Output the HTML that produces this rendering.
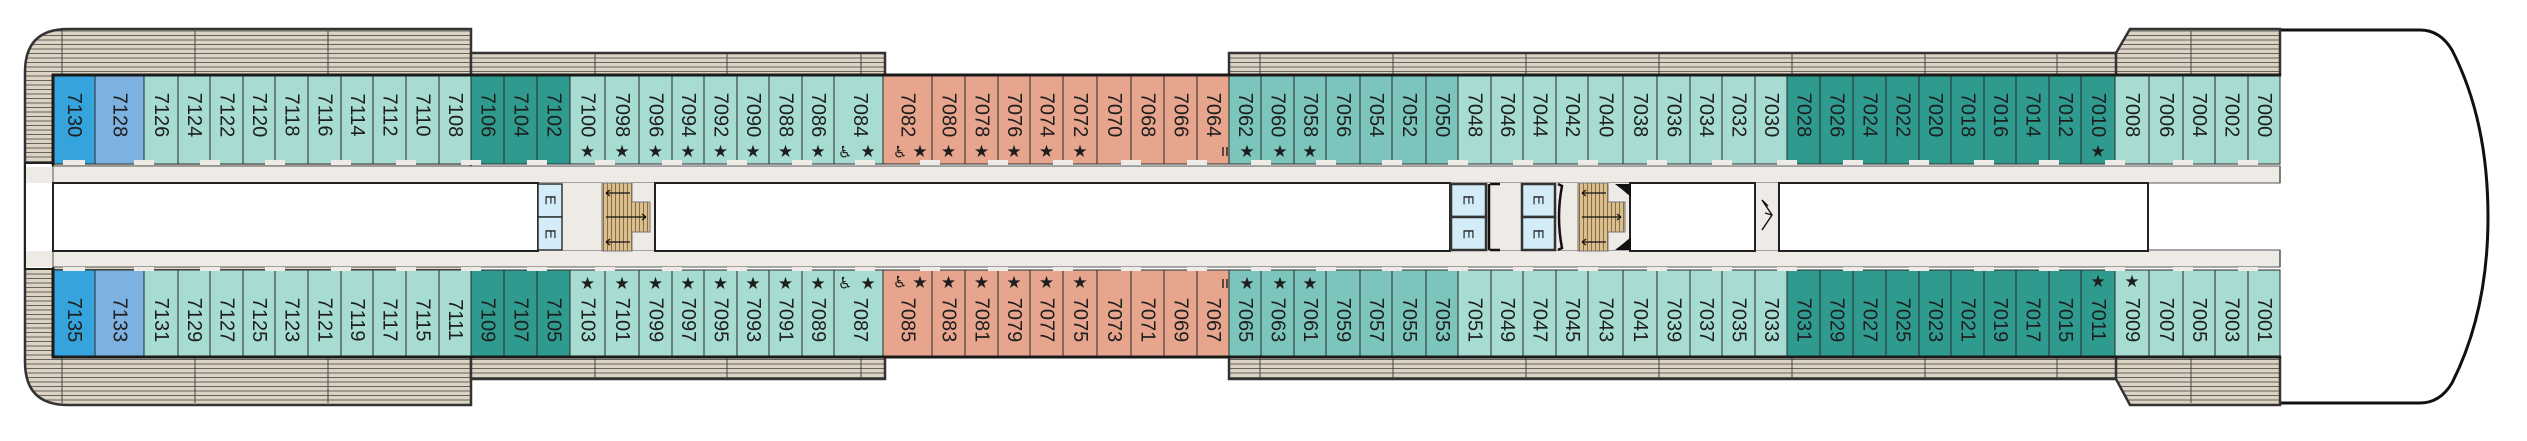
<!DOCTYPE html>
<html><head><meta charset="utf-8"><style>
html,body{margin:0;padding:0;background:#fff;width:2527px;height:441px;overflow:hidden}
svg{display:block}
.m{fill:#a6dcd1}.d{fill:#2f9b8f}.n{fill:#7cc5bc}.s{fill:#e8a58d}.b1{fill:#35a4dd}.b2{fill:#7db1e0}
.c rect{stroke:#2a2a2a;stroke-width:1}
.t{font-family:"Liberation Sans","DejaVu Sans",sans-serif;font-size:20px;fill:#1e1e1e;text-anchor:middle;dominant-baseline:central}
.st{font-family:"DejaVu Sans","Liberation Sans",sans-serif;font-size:17px;fill:#1e1e1e;text-anchor:middle;dominant-baseline:central}
.w{font-family:"DejaVu Sans",sans-serif;font-size:16px;fill:#1e1e1e;text-anchor:middle;dominant-baseline:central}
</style></head><body>
<svg width="2527" height="441" viewBox="0 0 2527 441" xmlns="http://www.w3.org/2000/svg">
<defs>
<pattern id="dk" width="10" height="4.5" patternUnits="userSpaceOnUse"><rect width="10" height="4.5" fill="#dcd3c2"/><line x1="0" y1="4" x2="10" y2="4" stroke="#555" stroke-width="0.9"/></pattern>
<pattern id="stp" width="4" height="10" patternUnits="userSpaceOnUse"><rect width="4" height="10" fill="#dcbe8c"/><line x1="3.5" y1="0" x2="3.5" y2="10" stroke="#6b5a3a" stroke-width="0.8"/></pattern>
</defs>
<path d="M2275 30 L2420 30 Q2440 30 2452 50 Q2488 120 2488 217 Q2488 312 2452 383 Q2440 403 2420 403 L2275 403" fill="#fff" stroke="#111" stroke-width="3"/>
<path d="M471 29 L68 29 Q25 29 25 72 L25 362 Q25 405 68 405 L471 405 Z" fill="url(#dk)" stroke="#333" stroke-width="2.5"/>
<rect x="471" y="53" width="414" height="22" fill="url(#dk)" stroke="#333" stroke-width="2.5"/>
<rect x="471" y="357" width="414" height="22" fill="url(#dk)" stroke="#333" stroke-width="2.5"/>
<rect x="1229" y="53" width="900" height="22" fill="url(#dk)" stroke="#333" stroke-width="2.5"/>
<rect x="1229" y="357" width="900" height="22" fill="url(#dk)" stroke="#333" stroke-width="2.5"/>
<path d="M2116 53 L2130 29 L2280 29 L2280 75 L2116 75 Z" fill="url(#dk)" stroke="#333" stroke-width="2.5"/>
<path d="M2116 379 L2130 405 L2280 405 L2280 357 L2116 357 Z" fill="url(#dk)" stroke="#333" stroke-width="2.5"/>
<g stroke="#444" stroke-width="1">
<line x1="62" y1="31" x2="62" y2="75"/><line x1="195" y1="31" x2="195" y2="75"/><line x1="328" y1="31" x2="328" y2="75"/>
<line x1="62" y1="357" x2="62" y2="403"/><line x1="195" y1="357" x2="195" y2="403"/><line x1="328" y1="357" x2="328" y2="403"/>
<line x1="595" y1="54" x2="595" y2="75"/><line x1="727" y1="54" x2="727" y2="75"/><line x1="861" y1="54" x2="861" y2="75"/>
<line x1="595" y1="357" x2="595" y2="378"/><line x1="727" y1="357" x2="727" y2="378"/><line x1="861" y1="357" x2="861" y2="378"/>
<line x1="1260" y1="54" x2="1260" y2="75"/><line x1="1393" y1="54" x2="1393" y2="75"/><line x1="1526" y1="54" x2="1526" y2="75"/><line x1="1659" y1="54" x2="1659" y2="75"/><line x1="1792" y1="54" x2="1792" y2="75"/><line x1="1925" y1="54" x2="1925" y2="75"/><line x1="2057" y1="54" x2="2057" y2="75"/><line x1="2191" y1="31" x2="2191" y2="75"/>
<line x1="1260" y1="357" x2="1260" y2="378"/><line x1="1393" y1="357" x2="1393" y2="378"/><line x1="1526" y1="357" x2="1526" y2="378"/><line x1="1659" y1="357" x2="1659" y2="378"/><line x1="1792" y1="357" x2="1792" y2="378"/><line x1="1925" y1="357" x2="1925" y2="378"/><line x1="2057" y1="357" x2="2057" y2="378"/><line x1="2191" y1="357" x2="2191" y2="403"/>
</g>
<rect x="25" y="163" width="28" height="106" fill="#fff" stroke="#222" stroke-width="2"/>
<rect x="26" y="167" width="27" height="16" fill="#eeeae6"/>
<rect x="26" y="251" width="27" height="16" fill="#eeeae6"/>
<rect x="53" y="166" width="2227" height="17" fill="#eeeae6" stroke="#555" stroke-width="1"/>
<rect x="53" y="250" width="2227" height="17" fill="#eeeae6" stroke="#555" stroke-width="1"/>
<rect x="538" y="183" width="117" height="67" fill="#eeeae6"/>
<rect x="53" y="183" width="485" height="68" fill="#fff" stroke="#222" stroke-width="2"/>
<rect x="655" y="183" width="795" height="68" fill="#fff" stroke="#222" stroke-width="2"/>
<rect x="1450" y="183" width="330" height="67" fill="#eeeae6"/>
<rect x="1630" y="183" width="125" height="68" fill="#fff" stroke="#222" stroke-width="2"/>
<rect x="1779" y="183" width="369" height="68" fill="#fff" stroke="#222" stroke-width="2"/>
<rect x="2149" y="184" width="132" height="65" fill="#fff"/>
<line x1="2148" y1="183" x2="2148" y2="251" stroke="#222" stroke-width="1.5"/>
<g fill="#d3ecf7" stroke="#333" stroke-width="1.5">
<rect x="538" y="184" width="24" height="33"/><rect x="538" y="217" width="24" height="33"/>
<rect x="1451" y="184" width="35" height="33" stroke-width="2.5"/><rect x="1451" y="217" width="35" height="33" stroke-width="2.5"/>
<rect x="1522" y="184" width="33" height="33" stroke-width="2.5"/><rect x="1522" y="217" width="33" height="33" stroke-width="2.5"/>
</g>
<g stroke="#111" stroke-width="2.5" fill="none">
<path d="M1490 184 L1500 184 M1490 250 L1500 250 M1489 184 L1489 250"/>
<path d="M1558 184 L1562 186 Q1556 217 1562 248 L1558 250"/>
</g>
<g class="t" style="font-size:15px">
<text transform="translate(550,200) rotate(90)">E</text><text transform="translate(550,234) rotate(90)">E</text>
<text transform="translate(1468,200) rotate(90)">E</text><text transform="translate(1468,234) rotate(90)">E</text>
<text transform="translate(1538,200) rotate(90)">E</text><text transform="translate(1538,234) rotate(90)">E</text>
</g>
<path d="M602 183 L632 183 L632 202 L650 202 L650 232 L632 232 L632 251 L602 251 Z" fill="url(#stp)" stroke="#777" stroke-width="1"/>
<path d="M1578 183 L1608 183 L1608 202 L1625 202 L1625 232 L1608 232 L1608 251 L1578 251 Z" fill="url(#stp)" stroke="#777" stroke-width="1"/>
<path d="M1615 184 L1631 184 L1631 197 Q1623 190 1615 184 Z M1615 250 L1631 250 L1631 237 Q1623 244 1615 250 Z" fill="#111"/>
<g stroke="#111" stroke-width="1.2" fill="none">
<path d="M606 193 L630 193 M606 193 l4 -3 M606 193 l4 3"/><path d="M606 217 L646 217 M646 217 l-4 -3 M646 217 l-4 3"/><path d="M606 242 L630 242 M606 242 l4 -3 M606 242 l4 3"/>
<path d="M1582 193 L1606 193 M1582 193 l4 -3 M1582 193 l4 3"/><path d="M1582 217 L1621 217 M1621 217 l-4 -3 M1621 217 l-4 3"/><path d="M1582 242 L1606 242 M1582 242 l4 -3 M1582 242 l4 3"/>
<path d="M1762 200 L1772 215 L1762 230 M1762 200 L1768 206 M1772 215 L1765 213" stroke-width="1.4"/>
</g>
<g class="c">
<rect class="b1" x="53" y="75" width="42" height="89"/><rect class="b2" x="95" y="75" width="49" height="89"/>
<rect class="m" x="144" y="75" width="34" height="89"/><rect class="m" x="178" y="75" width="32" height="89"/><rect class="m" x="210" y="75" width="33" height="89"/><rect class="m" x="243" y="75" width="32" height="89"/><rect class="m" x="275" y="75" width="33" height="89"/><rect class="m" x="308" y="75" width="33" height="89"/><rect class="m" x="341" y="75" width="32" height="89"/><rect class="m" x="373" y="75" width="33" height="89"/><rect class="m" x="406" y="75" width="33" height="89"/><rect class="m" x="439" y="75" width="32" height="89"/>
<rect class="d" x="471" y="75" width="33" height="89"/><rect class="d" x="504" y="75" width="33" height="89"/><rect class="d" x="537" y="75" width="33" height="89"/>
<rect class="m" x="570" y="75" width="35" height="89"/><rect class="m" x="605" y="75" width="34" height="89"/><rect class="m" x="639" y="75" width="33" height="89"/><rect class="m" x="672" y="75" width="32" height="89"/><rect class="m" x="704" y="75" width="33" height="89"/><rect class="m" x="737" y="75" width="32" height="89"/><rect class="m" x="769" y="75" width="33" height="89"/><rect class="m" x="802" y="75" width="32" height="89"/><rect class="m" x="834" y="75" width="49" height="89"/>
<rect class="s" x="883" y="75" width="49" height="89"/><rect class="s" x="932" y="75" width="33" height="89"/><rect class="s" x="965" y="75" width="33" height="89"/><rect class="s" x="998" y="75" width="32" height="89"/><rect class="s" x="1030" y="75" width="33" height="89"/><rect class="s" x="1063" y="75" width="34" height="89"/><rect class="s" x="1097" y="75" width="34" height="89"/><rect class="s" x="1131" y="75" width="33" height="89"/><rect class="s" x="1164" y="75" width="33" height="89"/><rect class="s" x="1197" y="75" width="32" height="89"/>
<rect class="n" x="1229" y="75" width="32" height="89"/><rect class="n" x="1261" y="75" width="33" height="89"/><rect class="n" x="1294" y="75" width="32" height="89"/><rect class="n" x="1326" y="75" width="34" height="89"/><rect class="n" x="1360" y="75" width="32" height="89"/><rect class="n" x="1392" y="75" width="34" height="89"/><rect class="n" x="1426" y="75" width="32" height="89"/>
<rect class="m" x="1458" y="75" width="33" height="89"/><rect class="m" x="1491" y="75" width="32" height="89"/><rect class="m" x="1523" y="75" width="33" height="89"/><rect class="m" x="1556" y="75" width="32" height="89"/><rect class="m" x="1588" y="75" width="35" height="89"/><rect class="m" x="1623" y="75" width="34" height="89"/><rect class="m" x="1657" y="75" width="33" height="89"/><rect class="m" x="1690" y="75" width="32" height="89"/><rect class="m" x="1722" y="75" width="33" height="89"/><rect class="m" x="1755" y="75" width="32" height="89"/>
<rect class="d" x="1787" y="75" width="33" height="89"/><rect class="d" x="1820" y="75" width="33" height="89"/><rect class="d" x="1853" y="75" width="33" height="89"/><rect class="d" x="1886" y="75" width="33" height="89"/><rect class="d" x="1919" y="75" width="32" height="89"/><rect class="d" x="1951" y="75" width="33" height="89"/><rect class="d" x="1984" y="75" width="32" height="89"/><rect class="d" x="2016" y="75" width="33" height="89"/><rect class="d" x="2049" y="75" width="32" height="89"/><rect class="d" x="2081" y="75" width="34" height="89"/>
<rect class="m" x="2115" y="75" width="34" height="89"/><rect class="m" x="2149" y="75" width="34" height="89"/><rect class="m" x="2183" y="75" width="32" height="89"/><rect class="m" x="2215" y="75" width="33" height="89"/><rect class="m" x="2248" y="75" width="32" height="89"/>
</g>
<g fill="#eeeae6">
<rect x="63" y="160" width="22" height="5"/><rect x="134" y="160" width="20" height="5"/><rect x="200" y="160" width="20" height="5"/><rect x="265" y="160" width="20" height="5"/><rect x="331" y="160" width="20" height="5"/><rect x="396" y="160" width="20" height="5"/><rect x="461" y="160" width="20" height="5"/><rect x="527" y="160" width="20" height="5"/><rect x="595" y="160" width="20" height="5"/><rect x="662" y="160" width="20" height="5"/><rect x="727" y="160" width="20" height="5"/><rect x="792" y="160" width="20" height="5"/><rect x="855" y="160" width="20" height="5"/><rect x="920" y="160" width="20" height="5"/><rect x="988" y="160" width="20" height="5"/><rect x="1053" y="160" width="20" height="5"/><rect x="1121" y="160" width="20" height="5"/><rect x="1187" y="160" width="20" height="5"/><rect x="1251" y="160" width="20" height="5"/><rect x="1316" y="160" width="20" height="5"/><rect x="1382" y="160" width="20" height="5"/><rect x="1448" y="160" width="20" height="5"/><rect x="1513" y="160" width="20" height="5"/><rect x="1578" y="160" width="20" height="5"/><rect x="1647" y="160" width="20" height="5"/><rect x="1712" y="160" width="20" height="5"/><rect x="1777" y="160" width="20" height="5"/><rect x="1843" y="160" width="20" height="5"/><rect x="1909" y="160" width="20" height="5"/><rect x="1974" y="160" width="20" height="5"/><rect x="2039" y="160" width="20" height="5"/><rect x="2105" y="160" width="20" height="5"/><rect x="2173" y="160" width="20" height="5"/><rect x="2238" y="160" width="20" height="5"/>
</g>
<g class="c">
<rect class="b1" x="53" y="270" width="42" height="87"/><rect class="b2" x="95" y="270" width="49" height="87"/>
<rect class="m" x="144" y="270" width="34" height="87"/><rect class="m" x="178" y="270" width="32" height="87"/><rect class="m" x="210" y="270" width="33" height="87"/><rect class="m" x="243" y="270" width="32" height="87"/><rect class="m" x="275" y="270" width="33" height="87"/><rect class="m" x="308" y="270" width="33" height="87"/><rect class="m" x="341" y="270" width="32" height="87"/><rect class="m" x="373" y="270" width="33" height="87"/><rect class="m" x="406" y="270" width="33" height="87"/><rect class="m" x="439" y="270" width="32" height="87"/>
<rect class="d" x="471" y="270" width="33" height="87"/><rect class="d" x="504" y="270" width="33" height="87"/><rect class="d" x="537" y="270" width="33" height="87"/>
<rect class="m" x="570" y="270" width="35" height="87"/><rect class="m" x="605" y="270" width="34" height="87"/><rect class="m" x="639" y="270" width="33" height="87"/><rect class="m" x="672" y="270" width="32" height="87"/><rect class="m" x="704" y="270" width="33" height="87"/><rect class="m" x="737" y="270" width="32" height="87"/><rect class="m" x="769" y="270" width="33" height="87"/><rect class="m" x="802" y="270" width="32" height="87"/><rect class="m" x="834" y="270" width="49" height="87"/>
<rect class="s" x="883" y="270" width="49" height="87"/><rect class="s" x="932" y="270" width="33" height="87"/><rect class="s" x="965" y="270" width="33" height="87"/><rect class="s" x="998" y="270" width="32" height="87"/><rect class="s" x="1030" y="270" width="33" height="87"/><rect class="s" x="1063" y="270" width="34" height="87"/><rect class="s" x="1097" y="270" width="34" height="87"/><rect class="s" x="1131" y="270" width="33" height="87"/><rect class="s" x="1164" y="270" width="33" height="87"/><rect class="s" x="1197" y="270" width="32" height="87"/>
<rect class="n" x="1229" y="270" width="32" height="87"/><rect class="n" x="1261" y="270" width="33" height="87"/><rect class="n" x="1294" y="270" width="32" height="87"/><rect class="n" x="1326" y="270" width="34" height="87"/><rect class="n" x="1360" y="270" width="32" height="87"/><rect class="n" x="1392" y="270" width="34" height="87"/><rect class="n" x="1426" y="270" width="32" height="87"/>
<rect class="m" x="1458" y="270" width="33" height="87"/><rect class="m" x="1491" y="270" width="32" height="87"/><rect class="m" x="1523" y="270" width="33" height="87"/><rect class="m" x="1556" y="270" width="32" height="87"/><rect class="m" x="1588" y="270" width="35" height="87"/><rect class="m" x="1623" y="270" width="34" height="87"/><rect class="m" x="1657" y="270" width="33" height="87"/><rect class="m" x="1690" y="270" width="32" height="87"/><rect class="m" x="1722" y="270" width="33" height="87"/><rect class="m" x="1755" y="270" width="32" height="87"/>
<rect class="d" x="1787" y="270" width="33" height="87"/><rect class="d" x="1820" y="270" width="33" height="87"/><rect class="d" x="1853" y="270" width="33" height="87"/><rect class="d" x="1886" y="270" width="33" height="87"/><rect class="d" x="1919" y="270" width="32" height="87"/><rect class="d" x="1951" y="270" width="33" height="87"/><rect class="d" x="1984" y="270" width="32" height="87"/><rect class="d" x="2016" y="270" width="33" height="87"/><rect class="d" x="2049" y="270" width="32" height="87"/><rect class="d" x="2081" y="270" width="34" height="87"/>
<rect class="m" x="2115" y="270" width="34" height="87"/><rect class="m" x="2149" y="270" width="34" height="87"/><rect class="m" x="2183" y="270" width="32" height="87"/><rect class="m" x="2215" y="270" width="33" height="87"/><rect class="m" x="2248" y="270" width="32" height="87"/>
</g>
<g fill="#eeeae6">
<rect x="63" y="267" width="22" height="4"/><rect x="134" y="267" width="20" height="4"/><rect x="200" y="267" width="20" height="4"/><rect x="265" y="267" width="20" height="4"/><rect x="331" y="267" width="20" height="4"/><rect x="396" y="267" width="20" height="4"/><rect x="461" y="267" width="20" height="4"/><rect x="527" y="267" width="20" height="4"/><rect x="595" y="267" width="20" height="4"/><rect x="662" y="267" width="20" height="4"/><rect x="727" y="267" width="20" height="4"/><rect x="792" y="267" width="20" height="4"/><rect x="855" y="267" width="20" height="4"/><rect x="920" y="267" width="20" height="4"/><rect x="988" y="267" width="20" height="4"/><rect x="1053" y="267" width="20" height="4"/><rect x="1121" y="267" width="20" height="4"/><rect x="1187" y="267" width="20" height="4"/><rect x="1251" y="267" width="20" height="4"/><rect x="1316" y="267" width="20" height="4"/><rect x="1382" y="267" width="20" height="4"/><rect x="1448" y="267" width="20" height="4"/><rect x="1513" y="267" width="20" height="4"/><rect x="1578" y="267" width="20" height="4"/><rect x="1647" y="267" width="20" height="4"/><rect x="1712" y="267" width="20" height="4"/><rect x="1777" y="267" width="20" height="4"/><rect x="1843" y="267" width="20" height="4"/><rect x="1909" y="267" width="20" height="4"/><rect x="1974" y="267" width="20" height="4"/><rect x="2039" y="267" width="20" height="4"/><rect x="2105" y="267" width="20" height="4"/><rect x="2173" y="267" width="20" height="4"/><rect x="2238" y="267" width="20" height="4"/>
</g>
<g stroke="#1a1a1a" stroke-width="3"><line x1="52" y1="75" x2="2281" y2="75"/><line x1="52" y1="357" x2="2281" y2="357"/><line x1="53" y1="74" x2="53" y2="165"/><line x1="53" y1="268" x2="53" y2="358"/></g>
<line x1="2280" y1="166" x2="2280" y2="183" stroke="#555" stroke-width="1.5"/><line x1="2280" y1="250" x2="2280" y2="267" stroke="#555" stroke-width="1.5"/>
<g class="t">
<text transform="translate(74,115) rotate(90)">7130</text><text transform="translate(119.5,115) rotate(90)">7128</text><text transform="translate(161,115) rotate(90)">7126</text><text transform="translate(194,115) rotate(90)">7124</text><text transform="translate(226.5,115) rotate(90)">7122</text><text transform="translate(259,115) rotate(90)">7120</text><text transform="translate(291.5,115) rotate(90)">7118</text><text transform="translate(324.5,115) rotate(90)">7116</text><text transform="translate(357,115) rotate(90)">7114</text><text transform="translate(389.5,115) rotate(90)">7112</text><text transform="translate(422.5,115) rotate(90)">7110</text><text transform="translate(455,115) rotate(90)">7108</text><text transform="translate(487.5,115) rotate(90)">7106</text><text transform="translate(520.5,115) rotate(90)">7104</text><text transform="translate(553.5,115) rotate(90)">7102</text><text transform="translate(587.5,115) rotate(90)">7100</text><text transform="translate(622,115) rotate(90)">7098</text><text transform="translate(655.5,115) rotate(90)">7096</text><text transform="translate(688,115) rotate(90)">7094</text><text transform="translate(720.5,115) rotate(90)">7092</text><text transform="translate(753,115) rotate(90)">7090</text><text transform="translate(785.5,115) rotate(90)">7088</text><text transform="translate(818,115) rotate(90)">7086</text><text transform="translate(860,115) rotate(90)">7084</text><text transform="translate(907.5,115) rotate(90)">7082</text><text transform="translate(948.5,115) rotate(90)">7080</text><text transform="translate(981.5,115) rotate(90)">7078</text><text transform="translate(1014,115) rotate(90)">7076</text><text transform="translate(1046.5,115) rotate(90)">7074</text><text transform="translate(1080,115) rotate(90)">7072</text><text transform="translate(1114,115) rotate(90)">7070</text><text transform="translate(1147.5,115) rotate(90)">7068</text><text transform="translate(1180.5,115) rotate(90)">7066</text><text transform="translate(1213,115) rotate(90)">7064</text><text transform="translate(1245,115) rotate(90)">7062</text><text transform="translate(1277.5,115) rotate(90)">7060</text><text transform="translate(1310,115) rotate(90)">7058</text><text transform="translate(1343,115) rotate(90)">7056</text><text transform="translate(1376,115) rotate(90)">7054</text><text transform="translate(1409,115) rotate(90)">7052</text><text transform="translate(1442,115) rotate(90)">7050</text><text transform="translate(1474.5,115) rotate(90)">7048</text><text transform="translate(1507,115) rotate(90)">7046</text><text transform="translate(1539.5,115) rotate(90)">7044</text><text transform="translate(1572,115) rotate(90)">7042</text><text transform="translate(1605.5,115) rotate(90)">7040</text><text transform="translate(1640,115) rotate(90)">7038</text><text transform="translate(1673.5,115) rotate(90)">7036</text><text transform="translate(1706,115) rotate(90)">7034</text><text transform="translate(1738.5,115) rotate(90)">7032</text><text transform="translate(1771,115) rotate(90)">7030</text><text transform="translate(1803.5,115) rotate(90)">7028</text><text transform="translate(1836.5,115) rotate(90)">7026</text><text transform="translate(1869.5,115) rotate(90)">7024</text><text transform="translate(1902.5,115) rotate(90)">7022</text><text transform="translate(1935,115) rotate(90)">7020</text><text transform="translate(1967.5,115) rotate(90)">7018</text><text transform="translate(2000,115) rotate(90)">7016</text><text transform="translate(2032.5,115) rotate(90)">7014</text><text transform="translate(2065,115) rotate(90)">7012</text><text transform="translate(2098,115) rotate(90)">7010</text><text transform="translate(2132,115) rotate(90)">7008</text><text transform="translate(2166,115) rotate(90)">7006</text><text transform="translate(2199,115) rotate(90)">7004</text><text transform="translate(2231.5,115) rotate(90)">7002</text><text transform="translate(2264,115) rotate(90)">7000</text>
</g>
<g class="t">
<text transform="translate(74,320) rotate(90)">7135</text><text transform="translate(119.5,320) rotate(90)">7133</text><text transform="translate(161,320) rotate(90)">7131</text><text transform="translate(194,320) rotate(90)">7129</text><text transform="translate(226.5,320) rotate(90)">7127</text><text transform="translate(259,320) rotate(90)">7125</text><text transform="translate(291.5,320) rotate(90)">7123</text><text transform="translate(324.5,320) rotate(90)">7121</text><text transform="translate(357,320) rotate(90)">7119</text><text transform="translate(389.5,320) rotate(90)">7117</text><text transform="translate(422.5,320) rotate(90)">7115</text><text transform="translate(455,320) rotate(90)">7111</text><text transform="translate(487.5,320) rotate(90)">7109</text><text transform="translate(520.5,320) rotate(90)">7107</text><text transform="translate(553.5,320) rotate(90)">7105</text><text transform="translate(587.5,320) rotate(90)">7103</text><text transform="translate(622,320) rotate(90)">7101</text><text transform="translate(655.5,320) rotate(90)">7099</text><text transform="translate(688,320) rotate(90)">7097</text><text transform="translate(720.5,320) rotate(90)">7095</text><text transform="translate(753,320) rotate(90)">7093</text><text transform="translate(785.5,320) rotate(90)">7091</text><text transform="translate(818,320) rotate(90)">7089</text><text transform="translate(860,320) rotate(90)">7087</text><text transform="translate(907.5,320) rotate(90)">7085</text><text transform="translate(948.5,320) rotate(90)">7083</text><text transform="translate(981.5,320) rotate(90)">7081</text><text transform="translate(1014,320) rotate(90)">7079</text><text transform="translate(1046.5,320) rotate(90)">7077</text><text transform="translate(1080,320) rotate(90)">7075</text><text transform="translate(1114,320) rotate(90)">7073</text><text transform="translate(1147.5,320) rotate(90)">7071</text><text transform="translate(1180.5,320) rotate(90)">7069</text><text transform="translate(1213,320) rotate(90)">7067</text><text transform="translate(1245,320) rotate(90)">7065</text><text transform="translate(1277.5,320) rotate(90)">7063</text><text transform="translate(1310,320) rotate(90)">7061</text><text transform="translate(1343,320) rotate(90)">7059</text><text transform="translate(1376,320) rotate(90)">7057</text><text transform="translate(1409,320) rotate(90)">7055</text><text transform="translate(1442,320) rotate(90)">7053</text><text transform="translate(1474.5,320) rotate(90)">7051</text><text transform="translate(1507,320) rotate(90)">7049</text><text transform="translate(1539.5,320) rotate(90)">7047</text><text transform="translate(1572,320) rotate(90)">7045</text><text transform="translate(1605.5,320) rotate(90)">7043</text><text transform="translate(1640,320) rotate(90)">7041</text><text transform="translate(1673.5,320) rotate(90)">7039</text><text transform="translate(1706,320) rotate(90)">7037</text><text transform="translate(1738.5,320) rotate(90)">7035</text><text transform="translate(1771,320) rotate(90)">7033</text><text transform="translate(1803.5,320) rotate(90)">7031</text><text transform="translate(1836.5,320) rotate(90)">7029</text><text transform="translate(1869.5,320) rotate(90)">7027</text><text transform="translate(1902.5,320) rotate(90)">7025</text><text transform="translate(1935,320) rotate(90)">7023</text><text transform="translate(1967.5,320) rotate(90)">7021</text><text transform="translate(2000,320) rotate(90)">7019</text><text transform="translate(2032.5,320) rotate(90)">7017</text><text transform="translate(2065,320) rotate(90)">7015</text><text transform="translate(2098,320) rotate(90)">7011</text><text transform="translate(2132,320) rotate(90)">7009</text><text transform="translate(2166,320) rotate(90)">7007</text><text transform="translate(2199,320) rotate(90)">7005</text><text transform="translate(2231.5,320) rotate(90)">7003</text><text transform="translate(2264,320) rotate(90)">7001</text>
</g>
<g class="st">
<text x="587.5" y="152">★</text><text x="622" y="152">★</text><text x="655.5" y="152">★</text><text x="688" y="152">★</text><text x="720.5" y="152">★</text><text x="753" y="152">★</text><text x="785.5" y="152">★</text><text x="818" y="152">★</text><text x="868" y="152">★</text><text x="920" y="152">★</text><text x="948.5" y="152">★</text><text x="981.5" y="152">★</text><text x="1014" y="152">★</text><text x="1046.5" y="152">★</text><text x="1080" y="152">★</text><text x="1247" y="152">★</text><text x="1280" y="152">★</text><text x="1310" y="152">★</text><text x="2098" y="152">★</text>
</g>
<g class="st">
<text x="587.5" y="284">★</text><text x="622" y="284">★</text><text x="655.5" y="284">★</text><text x="688" y="284">★</text><text x="720.5" y="284">★</text><text x="753" y="284">★</text><text x="785.5" y="284">★</text><text x="818" y="284">★</text><text x="868" y="284">★</text><text x="920" y="283">★</text><text x="948.5" y="283">★</text><text x="981.5" y="283">★</text><text x="1014" y="283">★</text><text x="1046.5" y="283">★</text><text x="1080" y="283">★</text><text x="1247" y="284">★</text><text x="1280" y="284">★</text><text x="1310" y="284">★</text><text x="2098" y="282">★</text><text x="2132" y="282">★</text>
</g>
<g class="w">
<text x="845" y="152">♿</text><text x="900" y="152">♿</text><text x="845" y="283">♿</text><text x="900" y="282">♿</text>
</g>
<g stroke="#111" stroke-width="1.3">
<line x1="1223" y1="147" x2="1223" y2="156"/><line x1="1227" y1="147" x2="1227" y2="156"/>
<line x1="1223" y1="279" x2="1223" y2="288"/><line x1="1227" y1="279" x2="1227" y2="288"/>
</g>
</svg>
</body></html>
